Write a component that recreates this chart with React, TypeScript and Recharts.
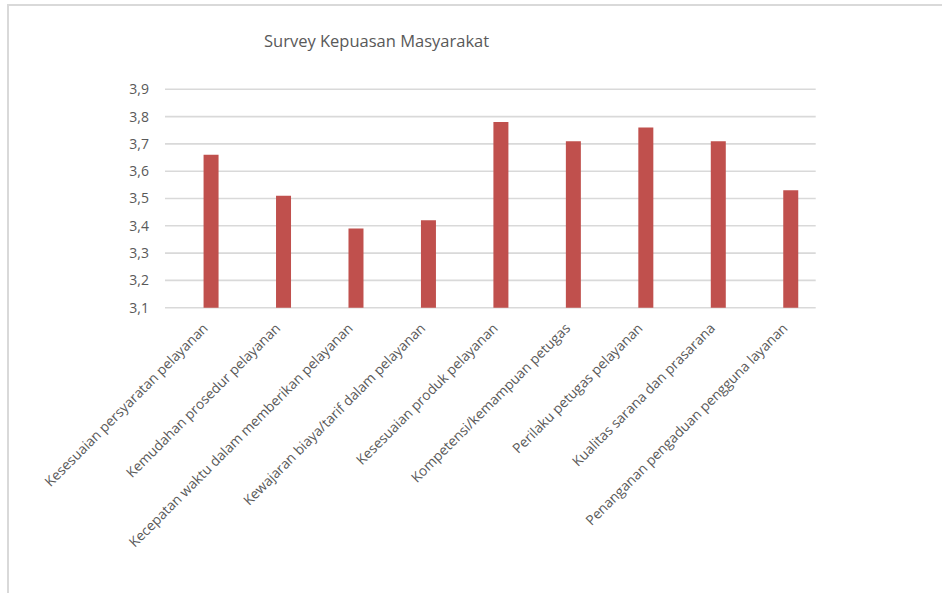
import React from 'react';
import { BarChart, Bar, XAxis, YAxis, CartesianGrid } from 'recharts';

const categories: string[] = [
  'Kesesuaian persyaratan pelayanan',
  'Kemudahan prosedur pelayanan',
  'Kecepatan waktu dalam memberikan pelayanan',
  'Kewajaran biaya/tarif dalam pelayanan',
  'Kesesuaian produk pelayanan',
  'Kompetensi/kemampuan petugas',
  'Perilaku petugas pelayanan',
  'Kualitas sarana dan prasarana',
  'Penanganan pengaduan pengguna layanan',
];

const scores: number[] = [3.66, 3.51, 3.39, 3.42, 3.78, 3.71, 3.76, 3.71, 3.53];

const yTicks: number[] = [3.1, 3.2, 3.3, 3.4, 3.5, 3.6, 3.7, 3.8, 3.9];

const title = 'Survey Kepuasan Masyarakat';

const data = categories.map((name, i) => ({ idx: i, name, value: scores[i] }));
const xTicks = categories.map((_, i) => i);

const FONT = "'Open Sans', sans-serif";
const TEXT = '#595959';

const XTick = (props: any) => {
  const { x, y, payload } = props;
  const ax = x - 2;
  const ay = y + 21.5;
  return (
    <text
      x={ax}
      y={ay}
      transform={`rotate(-45 ${ax} ${ay})`}
      textAnchor="end"
      fill={TEXT}
      fontSize={13.8}
      fontFamily={FONT}
    >
      {categories[payload.value]}
    </text>
  );
};

export default function App() {
  return (
    <div style={{ position: 'absolute', left: 0, top: 0, width: 942, height: 593, background: '#fff' }}>
      <div
        style={{
          position: 'absolute',
          left: 7,
          top: 4,
          width: 935,
          height: 589,
          boxSizing: 'border-box',
          borderTop: '2px solid #d9d9d9',
          borderLeft: '2px solid #d9d9d9',
        }}
      />
      <div style={{ position: 'absolute', left: 0, top: 0 }}>
        <BarChart
          width={942}
          height={593}
          data={data}
          margin={{ top: 89.3, right: 126.3, bottom: 85.3, left: 105 }}
        >
          <CartesianGrid vertical={false} stroke="#d9d9d9" strokeWidth={1.6} />
          <XAxis
            type="number"
            dataKey="idx"
            domain={[-0.632, 8.348]}
            ticks={xTicks}
            interval={0}
            axisLine={false}
            tickLine={false}
            tickSize={0}
            tickMargin={0}
            height={200}
            tick={<XTick />}
          />
          <YAxis
            type="number"
            domain={[3.1, 3.9]}
            ticks={yTicks}
            interval={0}
            axisLine={false}
            tickLine={false}
            tickSize={0}
            tickMargin={16}
            width={60}
            tickFormatter={(v: number) => v.toFixed(1).replace('.', ',')}
            tick={{ fill: TEXT, fontSize: 14, fontFamily: FONT }}
          />
          <Bar dataKey="value" fill="#c0504d" barSize={15} isAnimationActive={false} />
        </BarChart>
      </div>
      <svg
        width={942}
        height={593}
        style={{ position: 'absolute', left: 0, top: 0, pointerEvents: 'none' }}
      >
        <text x={264} y={46.5} fill={TEXT} fontSize={16.5} fontFamily={FONT}>
          {title}
        </text>
      </svg>
    </div>
  );
}
